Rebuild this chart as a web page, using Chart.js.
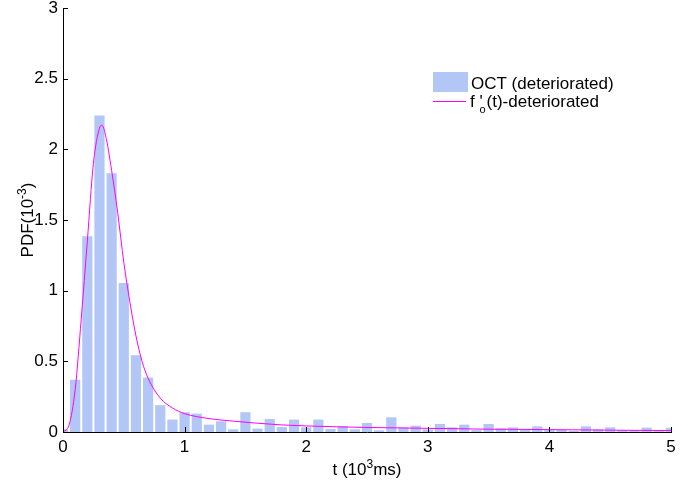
<!DOCTYPE html>
<html>
<head>
<meta charset="utf-8">
<script src="https://cdn.jsdelivr.net/npm/chart.js@4.4.0/dist/chart.umd.min.js"></script>
<style>
  html, body { margin: 0; padding: 0; background: #fff; }
</style>
</head>
<body>
<canvas id="pdfChart" width="699" height="490"></canvas>
<script>
// histogram bin centres (10^3 ms)
const binCenters = [0, 0.1, 0.2, 0.3, 0.4, 0.5, 0.6, 0.7, 0.8, 0.9,
  1.0, 1.1, 1.2, 1.3, 1.4, 1.5, 1.6, 1.7, 1.8, 1.9,
  2.0, 2.1, 2.2, 2.3, 2.4, 2.5, 2.6, 2.7, 2.8, 2.9,
  3.0, 3.1, 3.2, 3.3, 3.4, 3.5, 3.6, 3.7, 3.8, 3.9,
  4.0, 4.1, 4.2, 4.3, 4.4, 4.5, 4.6, 4.7, 4.8, 4.9, 5.0];

// OCT (deteriorated) histogram, PDF in 10^-3
const octDensity = [0.02, 0.37, 1.385, 2.24, 1.83, 1.055, 0.543, 0.385, 0.19, 0.088,
  0.14, 0.13, 0.052, 0.076, 0.019, 0.14, 0.024, 0.092, 0.035, 0.088,
  0.033, 0.088, 0.021, 0.042, 0.019, 0.064, 0.012, 0.104, 0.033, 0.045,
  0.019, 0.057, 0.033, 0.052, 0.014, 0.057, 0.026, 0.033, 0.014, 0.04,
  0.016, 0.014, 0.007, 0.04, 0.019, 0.033, 0.014, 0.014, 0.031, 0.014, 0.03];

// fitted curve f'o(t)
const curveT = [0, 0.05, 0.1, 0.15, 0.2, 0.25, 0.3, 0.32, 0.35, 0.4, 0.45, 0.5, 0.55, 0.6, 0.65, 0.7,
  0.8, 0.9, 1.0, 1.2, 1.4, 1.6, 1.8, 2.0, 2.5, 3.0, 3.5, 4.0, 4.5, 5.0];
const curveY = [0, 0.05, 0.3, 0.8, 1.35, 1.9, 2.15, 2.17, 2.1, 1.85, 1.55, 1.2, 0.92, 0.68, 0.5, 0.38,
  0.24, 0.17, 0.13, 0.095, 0.077, 0.062, 0.05, 0.043, 0.032, 0.026, 0.02, 0.017, 0.013, 0.01];

const xTicks = [0, 1, 2, 3, 4, 5];
const yTicks = [0, 0.5, 1, 1.5, 2, 2.5, 3];

const barColor = 'rgb(179,199,247)';
const lineColor = '#ff00ff';
const fontFamily = '"Liberation Sans", Arial, sans-serif';

// tick marks pointing into the plot
const innerTicks = {
    id: 'innerTicks',
    afterDatasetsDraw(chart) {
        const { ctx, chartArea, scales: { x, y } } = chart;
        ctx.save();
        ctx.strokeStyle = '#000';
        ctx.lineWidth = 1;
        ctx.beginPath();
        y.ticks.forEach(t => {
            const py = Math.round(y.getPixelForValue(t.value)) + 0.5;
            ctx.moveTo(chartArea.left, py);
            ctx.lineTo(chartArea.left + 5, py);
        });
        x.ticks.forEach(t => {
            const px = Math.round(x.getPixelForValue(t.value)) + 0.5;
            ctx.moveTo(px, chartArea.bottom);
            ctx.lineTo(px, chartArea.bottom - 5);
        });
        ctx.stroke();
        ctx.restore();
    }
};

// draws a run of [text, size, dy] pieces
function drawRun(ctx, parts, x, y) {
    let cx = x;
    parts.forEach(p => {
        ctx.font = p[1] + 'px ' + fontFamily;
        ctx.fillText(p[0], cx, y + (p[2] || 0));
        cx += ctx.measureText(p[0]).width;
    });
    return cx;
}
function runWidth(ctx, parts) {
    let w = 0;
    parts.forEach(p => {
        ctx.font = p[1] + 'px ' + fontFamily;
        w += ctx.measureText(p[0]).width;
    });
    return w;
}

// axis titles and legend, with super/subscripts
const labelsAndLegend = {
    id: 'labelsAndLegend',
    afterDraw(chart) {
        const { ctx, chartArea } = chart;
        ctx.save();
        ctx.fillStyle = '#000';
        ctx.textBaseline = 'alphabetic';
        ctx.textAlign = 'left';

        // x title
        const xParts = [['t (10', 17], ['3', 12, -7], ['ms)', 17]];
        const xw = runWidth(ctx, xParts);
        drawRun(ctx, xParts, (chartArea.left + chartArea.right) / 2 - xw / 2, 475);

        // y title
        const yParts = [['PDF(10', 17], ['-3', 12, -7], [')', 17]];
        const yw = runWidth(ctx, yParts);
        ctx.save();
        ctx.translate(33, (chartArea.top + chartArea.bottom) / 2);
        ctx.rotate(-Math.PI / 2);
        drawRun(ctx, yParts, -yw / 2, 0);
        ctx.restore();

        // legend
        ctx.fillStyle = barColor;
        ctx.fillRect(433, 72, 35, 20);
        ctx.fillStyle = '#000';
        drawRun(ctx, [['OCT (deteriorated)', 17]], 471, 89);

        ctx.strokeStyle = lineColor;
        ctx.lineWidth = 1;
        ctx.beginPath();
        ctx.moveTo(433, 101.5);
        ctx.lineTo(466, 101.5);
        ctx.stroke();
        let cx = drawRun(ctx, [['f ', 17]], 470, 107);
        ctx.font = '17px ' + fontFamily;
        ctx.fillText("'", cx, 107);
        const pw = ctx.measureText("'").width;
        ctx.font = '11px ' + fontFamily;
        ctx.fillText('o', cx, 113);
        const ow = ctx.measureText('o').width;
        drawRun(ctx, [['(t)-deteriorated', 17]], cx + Math.max(pw, ow) + 1, 107);
        ctx.restore();
    }
};

const ctx = document.getElementById('pdfChart').getContext('2d');
const pdfChart = new Chart(ctx, {
    type: 'bar',
    data: {
        datasets: [{
            type: 'line',
            label: "f 'o(t)-deteriorated",
            data: curveT.map((t, i) => ({ x: t, y: curveY[i] })),
            borderColor: lineColor,
            borderWidth: 1,
            pointRadius: 0,
            cubicInterpolationMode: 'monotone',
            order: 0
        }, {
            label: 'OCT (deteriorated)',
            data: binCenters.map((t, i) => ({ x: t, y: octDensity[i] })),
            backgroundColor: barColor,
            borderWidth: 0,
            barPercentage: 0.84,
            categoryPercentage: 1,
            clip: 0,
            order: 1
        }]
    },
    options: {
        responsive: false,
        animation: false,
        layout: { padding: { top: 8, right: 28, left: 0, bottom: 0 } },
        plugins: {
            legend: { display: false },
            tooltip: { enabled: false }
        },
        scales: {
            x: {
                type: 'linear',
                min: 0,
                max: 5,
                offset: false,
                afterBuildTicks: (scale) => { scale.ticks = xTicks.map(v => ({ value: v })); },
                afterFit: (scale) => { scale.height = 58; scale.paddingLeft = 0; scale.paddingRight = 0; },
                ticks: { color: '#000', font: { family: fontFamily, size: 17 }, padding: 5, maxRotation: 0 },
                grid: { display: false, drawTicks: false },
                border: { display: true, color: '#000', width: 1 }
            },
            y: {
                min: 0,
                max: 3,
                afterBuildTicks: (scale) => { scale.ticks = yTicks.map(v => ({ value: v })); },
                afterFit: (scale) => { scale.width = 63; scale.paddingTop = 0; scale.paddingBottom = 0; },
                ticks: { color: '#000', font: { family: fontFamily, size: 17 }, padding: 5, callback: (v) => String(v) },
                grid: { display: false, drawTicks: false },
                border: { display: true, color: '#000', width: 1 }
            }
        }
    },
    plugins: [innerTicks, labelsAndLegend]
});
</script>
</body>
</html>
